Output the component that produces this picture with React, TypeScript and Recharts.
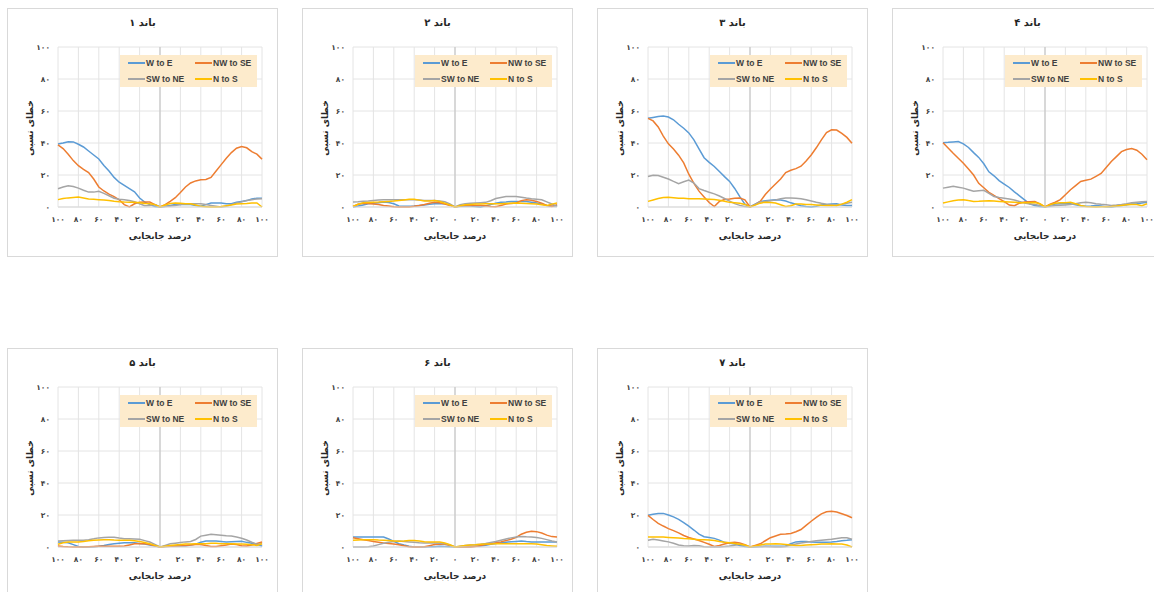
import { LineChart, Line, XAxis, YAxis, CartesianGrid, ReferenceLine } from 'recharts';

// displacement percentage (x axis)
const xPercent = [
  -100, -95, -90, -85, -80, -75, -70, -65, -60, -55, -50, -45, -40, -35, -30, -25, -20, -15, -10, -5,
  0, 5, 10, 15, 20, 25, 30, 35, 40, 45, 50, 55, 60, 65, 70, 75, 80, 85, 90, 95, 100,
];

const X_TICKS = [-100, -80, -60, -40, -20, 0, 20, 40, 60, 80, 100];
const Y_TICKS = [0, 20, 40, 60, 80, 100];

// band 1
const band1WE = [39.4, 40, 40.8, 40.7, 39.2, 37.5, 35, 32.5, 30, 26, 22.5, 18.5, 15.5, 13.5, 11.5, 9.5, 5.6, 3, 1.5, 0.3, 0, 0.5, 1, 1.5, 1.5, 1.5, 1.5, 1, 0.5, 1.5, 2.5, 2.5, 2.5, 2, 2, 3, 3.5, 4, 5, 5.5, 5.5];
const band1NWSE = [38.8, 36.5, 33, 29, 25.8, 23.5, 21.5, 17.5, 12.5, 10, 8, 6.5, 4.5, 1.5, 0, 2, 3, 3.2, 3.1, 1.5, 0, 1.5, 3.5, 5.8, 9, 12.5, 15, 16.3, 17, 17.2, 18.5, 22.5, 26.5, 30.5, 34, 36.7, 37.8, 37, 34.6, 33, 29.9];
const band1SWNE = [11.4, 12.5, 13.3, 12.8, 11.8, 10.5, 9.3, 9.3, 9.8, 8.5, 7, 5.5, 4.8, 4.5, 4, 3.3, 2, 0.8, 1, 1.5, 0, 0.3, 0.6, 1, 1.5, 2, 2, 2, 2, 1.5, 1, 0.5, 0, 0.5, 1.5, 2.5, 3.2, 4, 4.6, 5, 5.2];
const band1NS = [4.6, 5.3, 5.7, 6, 6.2, 5.6, 5, 4.8, 4.6, 4.4, 4, 3.6, 3.3, 3.1, 3, 2.9, 2.6, 2.2, 2, 1.5, 0, 1.2, 2.2, 2.5, 2.4, 2, 2, 1.2, 0.4, 0.2, 0, 0, 0.3, 0.8, 1.3, 1.8, 2, 2.2, 2.5, 2.5, 0];

// band 2
const band2WE = [0, 0.6, 1.3, 2, 2.3, 2.7, 3.1, 2.8, 2, 0.6, 0.4, 0.4, 0.6, 1, 1.3, 1.7, 2, 2, 2, 1.3, 0, 0.4, 0.8, 0.6, 0.3, 0, 0.7, 1.6, 2.3, 3, 3.2, 3.5, 3.5, 3.5, 3.5, 3, 2.5, 1.9, 1, 0.4, 0.8];
const band2NWSE = [0.4, 1.7, 2.4, 2.2, 1.9, 1.5, 1, 0.6, 0.2, 0, 0, 0, 0.4, 0.9, 1.6, 2.4, 3, 2.6, 1.8, 1, 0, 0.6, 1, 1, 1, 1, 0.8, 0.3, 0.2, 1, 1.8, 2.2, 2.5, 4, 4.5, 4.2, 3.5, 2.4, 1, 0.4, 1.5];
const band2SWNE = [3.1, 3.3, 3.6, 3.8, 4.1, 4.4, 4.6, 4.6, 4.6, 4.6, 4.6, 4.6, 4.5, 4.3, 4.1, 4.1, 4.1, 3.8, 3.3, 2, 0, 1.5, 2.1, 2.3, 2.5, 2.7, 2.9, 3.9, 5.3, 6, 6.5, 6.6, 6.6, 6.1, 5.6, 5.2, 4.9, 4.5, 3.2, 1.9, 0.4];
const band2NS = [0.4, 1.7, 2.6, 2.8, 3, 3.1, 3.3, 3.5, 3.7, 4, 4.4, 4.8, 4.9, 4.3, 3.7, 3.7, 4, 3.4, 2.4, 1.3, 0, 0.8, 1.4, 1.6, 1.8, 1.9, 2, 2, 2, 2, 2.2, 2.4, 2.5, 2.4, 2.2, 2, 1.8, 1.4, 1, 1.8, 2.5];

// band 3
const band3WE = [55.4, 56, 56.6, 56.8, 56.2, 54.5, 51.7, 49.2, 46.3, 42, 36.3, 30.8, 27.9, 25.3, 22.2, 19, 16, 11.6, 6.5, 1.8, 0, 1.8, 3.5, 3.9, 4.2, 4.5, 4.4, 3.7, 2.6, 1.7, 0.8, 0.3, 0, 0.5, 1.2, 1.6, 1.8, 2, 1.3, 1, 1];
const band3NWSE = [55.4, 53.8, 50, 44.3, 39.5, 36.3, 32.4, 27.6, 20.5, 14.7, 9.9, 6.3, 2.8, 0.3, 3.5, 4.7, 5, 5.4, 5.6, 4.5, 0, 1.5, 3.5, 7.8, 11.2, 14.4, 17.5, 21.5, 23, 24, 25.5, 28.8, 32.5, 37, 42, 46.5, 48.2, 48.1, 46, 43.5, 39.8];
const band3SWNE = [19, 19.8, 19.7, 18.6, 17.5, 16, 14.6, 15.8, 16.8, 15, 11.5, 10.3, 9.2, 8.2, 6.9, 5.3, 3.7, 2.1, 1, 0.3, 0, 1.6, 3.1, 3.5, 3.9, 4.4, 5.1, 5.6, 5.6, 5.5, 5.1, 4.5, 3.8, 3, 2.3, 1.8, 1.4, 1, 1.7, 2.3, 2.9];
const band3NS = [3.5, 4.4, 5.3, 5.9, 6.1, 5.8, 5.5, 5.4, 5.2, 5.2, 5.1, 5, 4.9, 4.7, 4.2, 3.6, 2.9, 2.6, 2.3, 1.6, 0, 1.2, 2.4, 3, 2.8, 2.5, 1.4, 0.3, 0.8, 1.8, 1.8, 1.6, 1.5, 1.3, 1.1, 1, 1, 1, 1.8, 3, 4.6];

// band 4
const band4WE = [40.2, 40.4, 40.7, 40.9, 39.5, 37.2, 34, 31, 27, 22, 19.5, 16.5, 14.3, 12.2, 9.5, 7, 4.5, 2, 0.9, 0.3, 0, 1.2, 1.9, 2, 2, 2, 1.4, 0.8, 0.5, 0.7, 1, 0.6, 0.2, 0, 0.5, 1, 1.4, 1.8, 2.1, 2.5, 2.9];
const band4NWSE = [40.2, 36.9, 33.6, 30.5, 27.4, 23.7, 20, 14.8, 12, 9.2, 7.2, 5.3, 3.3, 1.2, 0.8, 2.4, 3.1, 3.3, 3.5, 2, 0, 1.7, 3, 4.6, 7.7, 10.8, 13.4, 16, 16.7, 17.4, 19.2, 21, 24.7, 28.4, 31.5, 34.6, 35.9, 36.5, 35.5, 33, 29.5];
const band4SWNE = [11.8, 12.4, 12.9, 12.4, 11.8, 10.8, 9.8, 10.1, 10.4, 8.5, 6.6, 6, 5.5, 5, 4.4, 3.4, 2.5, 1.9, 1.6, 1, 0, 0.5, 0.9, 1.1, 1.3, 1.5, 2.1, 2.7, 3, 2.6, 2.1, 1.7, 1.4, 1, 1.2, 1.5, 2, 2.6, 3, 3.3, 3.5];
const band4NS = [2.5, 3.2, 3.9, 4.3, 4.6, 4, 3.5, 3.6, 3.8, 3.9, 3.7, 3.5, 3.3, 3.1, 2.9, 2.7, 2.6, 2.6, 2.8, 2, 0, 1.5, 2.3, 2.6, 2.7, 2.9, 2, 1, 0.3, 0.2, 0, 0.1, 0.2, 0.3, 0.6, 1, 1.4, 1.5, 1.5, 0.8, 2];

// band 5
const band5WE = [3.1, 2.9, 2.6, 1.5, 0.3, 0, 0, 0.2, 0.5, 1, 1.6, 2, 2.4, 2.6, 2.7, 2.6, 2.2, 1.8, 1.3, 0.6, 0, 0.3, 0.5, 0.6, 0.6, 0.6, 1.2, 1.8, 3, 3.7, 3.7, 3.7, 3.4, 3.1, 3.3, 3.5, 3.6, 2.9, 2.3, 1.5, 0.6];
const band5NWSE = [0.6, 0.3, 0.1, 0, 0, 0, 0.2, 0.3, 0.4, 0.4, 0.4, 0.4, 0.4, 0.6, 1.3, 2, 2, 2, 1.5, 0.8, 0, 0.3, 0.5, 0.7, 0.8, 1, 1.2, 1.5, 1.6, 0.9, 0.3, 0.3, 0.8, 1.3, 1.8, 1.6, 0.8, 0.6, 1.3, 2.2, 3.1];
const band5SWNE = [3.7, 3.9, 4.1, 4.2, 4.2, 4.2, 4.6, 5.1, 5.7, 5.9, 6.1, 6.1, 5.6, 5.2, 5.1, 5, 4.8, 4, 3.1, 1.6, 0, 1, 2, 2.4, 2.8, 3.2, 3.5, 4.7, 6.8, 7.4, 7.9, 7.6, 7.3, 7, 6.8, 6.3, 5.5, 4.4, 3, 1.7, 2];
const band5NS = [1.7, 2.6, 3.1, 3.1, 3.1, 3.4, 3.9, 4.2, 4.4, 4.5, 4.5, 4.3, 4.2, 4.2, 4.2, 3.9, 3.5, 2.8, 2, 1, 0, 0.5, 1, 1.3, 1.5, 1.8, 1.9, 2, 2, 2.1, 2.4, 2.4, 2.1, 2, 2, 1.9, 1.8, 1.7, 1.4, 1, 2];

// band 6
const band6WE = [6.2, 6.2, 6.2, 6.2, 6.2, 6.2, 6.2, 5, 3.5, 2, 1.2, 0.5, 0, 0, 0, 0.1, 0.2, 0.4, 0.3, 0.1, 0, 0, 0, 0.2, 0.4, 0.6, 1.1, 1.7, 2.2, 2.6, 3, 3.3, 3.5, 3.7, 3.4, 3.2, 3.1, 3.1, 3.1, 3.1, 3.1];
const band6NWSE = [5.8, 5.2, 4.6, 4, 3.5, 3, 2.5, 2.2, 1.9, 1.4, 0.8, 0.1, 0, 0, 0.1, 0.8, 1.5, 1.7, 1.7, 1, 0, 0, 0, 0, 0.3, 0.9, 1.6, 2.1, 2.7, 3.2, 4, 4.9, 6, 8, 9.2, 9.8, 9.6, 8.7, 7.4, 6.5, 6.2];
const band6SWNE = [0, 0, 0, 0.2, 0.6, 1.5, 2.3, 3, 3.4, 3.7, 3.5, 3.2, 2.9, 2.6, 2.5, 2.5, 2.5, 2.3, 2.1, 1.2, 0, 0.5, 0.9, 1.2, 1.4, 1.7, 2.2, 2.8, 3.4, 4.2, 5, 5.7, 6.2, 6.6, 6.4, 6.3, 6, 5.4, 4.6, 3.8, 3.1];
const band6NS = [4.2, 4.4, 4.5, 4.6, 4.5, 4.3, 4.2, 4, 3.8, 3.6, 3.7, 4, 4.1, 3.7, 3.3, 3.1, 3.1, 3.1, 2.5, 1.4, 0, 0.5, 0.9, 1.2, 1.4, 1.7, 1.8, 1.9, 2, 2, 2, 2, 2, 2, 2, 2, 1.8, 1.4, 1, 0.7, 0.4];

// band 7
const band7WE = [19.8, 20.4, 21, 21, 20, 18.8, 17.3, 15.3, 13, 10.6, 8, 6.4, 5.9, 5.4, 4.3, 2.9, 2.4, 1.9, 1, 0.3, 0, 0.2, 0.3, 0.4, 0.4, 0.4, 0.5, 0.6, 2, 3.2, 3.4, 3.4, 3.2, 3, 2.9, 3, 3.2, 3.5, 3.9, 4.2, 4.6];
const band7NWSE = [19.8, 17.2, 14.8, 13.1, 11.5, 10.2, 8.8, 7.2, 5.9, 5, 4.1, 2.9, 1.7, 0.3, 0.9, 1.9, 2.6, 3, 2.5, 1.5, 0, 1, 2, 3.9, 5.8, 6.9, 7.9, 8.1, 8.5, 9.5, 10.9, 13.5, 16.1, 18.5, 20.7, 22, 22.4, 21.9, 20.8, 19.7, 18.3];
const band7SWNE = [4.2, 4.8, 4.4, 3.8, 3.2, 2.3, 1.2, 0.8, 0.6, 0.9, 0.8, 0.2, 0, 0, 0, 0.3, 0.6, 1.1, 1.7, 0.8, 0, 0.2, 0.3, 0.3, 0.2, 0, 0, 0.3, 1.2, 1.9, 2.5, 3, 3.5, 3.9, 4.2, 4.5, 4.8, 5.3, 5.8, 5.8, 4.8];
const band7NS = [6.2, 6.2, 6.2, 6.2, 6, 5.8, 5.6, 5.3, 5.1, 4.9, 4.6, 4.5, 4.3, 4.1, 3.5, 3, 2.6, 2.2, 1.7, 1.2, 0, 0.7, 1.3, 1.8, 1.9, 2, 1.8, 1.6, 1.2, 1, 1, 1.2, 1.4, 1.6, 1.8, 1.9, 2, 1.9, 1.8, 1.2, 0];

const SERIES = [
  { key: 'we', name: 'W to E', color: '#5B9BD5' },
  { key: 'nwse', name: 'NW to SE', color: '#ED7D31' },
  { key: 'swne', name: 'SW to NE', color: '#A5A5A5' },
  { key: 'ns', name: 'N to S', color: '#FFC000' },
];

const BANDS = [
  { title: 'باند ۱', we: band1WE, nwse: band1NWSE, swne: band1SWNE, ns: band1NS },
  { title: 'باند ۲', we: band2WE, nwse: band2NWSE, swne: band2SWNE, ns: band2NS },
  { title: 'باند ۳', we: band3WE, nwse: band3NWSE, swne: band3SWNE, ns: band3NS },
  { title: 'باند ۴', we: band4WE, nwse: band4NWSE, swne: band4SWNE, ns: band4NS },
  { title: 'باند ۵', we: band5WE, nwse: band5NWSE, swne: band5SWNE, ns: band5NS },
  { title: 'باند ۶', we: band6WE, nwse: band6NWSE, swne: band6SWNE, ns: band6NS },
  { title: 'باند ۷', we: band7WE, nwse: band7NWSE, swne: band7SWNE, ns: band7NS },
];

const PANEL_POS = [
  [7, 8], [302, 8], [597, 8], [892, 8],
  [7, 348], [302, 348], [597, 348],
];

const FA_FONT = '"DejaVu Sans", sans-serif';
const toFa = (n: number) => String(n).replace(/\d/g, (d) => '۰۱۲۳۴۵۶۷۸۹'[Number(d)]);

const tickStyle = { fontSize: 7.5, fill: '#404040', fontFamily: FA_FONT, fontWeight: 700 };

type Band = (typeof BANDS)[number];

const LegendBox = () => (
  <div
    style={{
      position: 'absolute',
      left: 112,
      top: 46,
      width: 137,
      height: 32,
      background: '#FDEBCC',
      fontFamily: '"Liberation Sans", Arial, sans-serif',
      fontSize: 8.5,
      fontWeight: 700,
      color: '#404040',
    }}
  >
    {SERIES.map((s, i) => (
      <div
        key={s.key}
        style={{
          position: 'absolute',
          left: i % 2 === 0 ? 8 : 75,
          top: i < 2 ? 2 : 18,
          height: 12,
          display: 'flex',
          alignItems: 'center',
          whiteSpace: 'nowrap',
        }}
      >
        <span style={{ display: 'inline-block', width: 17, height: 1.5, background: s.color, marginRight: 1 }} />
        {s.name}
      </div>
    ))}
  </div>
);

const BandPanel = ({ band, left, top }: { band: Band; left: number; top: number }) => {
  const data = xPercent.map((x, i) => ({
    x,
    we: band.we[i],
    nwse: band.nwse[i],
    swne: band.swne[i],
    ns: band.ns[i],
  }));

  return (
    <div
      style={{
        position: 'absolute',
        left,
        top,
        width: 271,
        height: 249,
        boxSizing: 'border-box',
        border: '1px solid #d9d9d9',
        background: '#fff',
      }}
    >
      <LineChart width={269} height={247} data={data} margin={{ top: 38, right: 15, bottom: 29, left: 20 }}>
        <CartesianGrid stroke="#e4e4e4" />
        <XAxis
          type="number"
          dataKey="x"
          domain={[-100, 100]}
          ticks={X_TICKS}
          interval={0}
          height={20}
          tickLine={false}
          tickMargin={4}
          axisLine={{ stroke: '#d9d9d9' }}
          tick={tickStyle}
          tickFormatter={(v: number) => toFa(Math.abs(v))}
        />
        <YAxis
          type="number"
          domain={[0, 100]}
          ticks={Y_TICKS}
          interval={0}
          width={30}
          tickLine={false}
          axisLine={false}
          tick={tickStyle}
          tickFormatter={(v: number) => toFa(v)}
        />
        <ReferenceLine x={0} stroke="#bfbfbf" strokeWidth={1} />
        {SERIES.map((s) => (
          <Line
            key={s.key}
            type="linear"
            dataKey={s.key}
            name={s.name}
            stroke={s.color}
            strokeWidth={1.5}
            dot={false}
            isAnimationActive={false}
          />
        ))}
      </LineChart>

      <div
        style={{
          position: 'absolute',
          left: 0,
          width: 269,
          top: 8,
          textAlign: 'center',
          fontFamily: FA_FONT,
          fontSize: 10,
          fontWeight: 700,
          color: '#262626',
          direction: 'rtl',
        }}
      >
        {band.title}
      </div>

      <div
        style={{
          position: 'absolute',
          left: 22,
          top: 119,
          transform: 'translate(-50%, -50%) rotate(-90deg)',
          whiteSpace: 'nowrap',
          fontFamily: FA_FONT,
          fontSize: 9,
          fontWeight: 700,
          color: '#262626',
          direction: 'rtl',
        }}
      >
        خطای نسبی
      </div>

      <div
        style={{
          position: 'absolute',
          left: 50,
          width: 204,
          top: 222,
          textAlign: 'center',
          fontFamily: FA_FONT,
          fontSize: 9,
          fontWeight: 700,
          color: '#262626',
          direction: 'rtl',
        }}
      >
        درصد جابجایی
      </div>

      <LegendBox />
    </div>
  );
};

export default function App() {
  return (
    <div
      style={{
        position: 'absolute',
        left: 0,
        top: 0,
        width: 1154,
        height: 592,
        overflow: 'hidden',
        background: '#fff',
      }}
    >
      {BANDS.map((band, i) => (
        <BandPanel key={band.title} band={band} left={PANEL_POS[i][0]} top={PANEL_POS[i][1]} />
      ))}
    </div>
  );
}
